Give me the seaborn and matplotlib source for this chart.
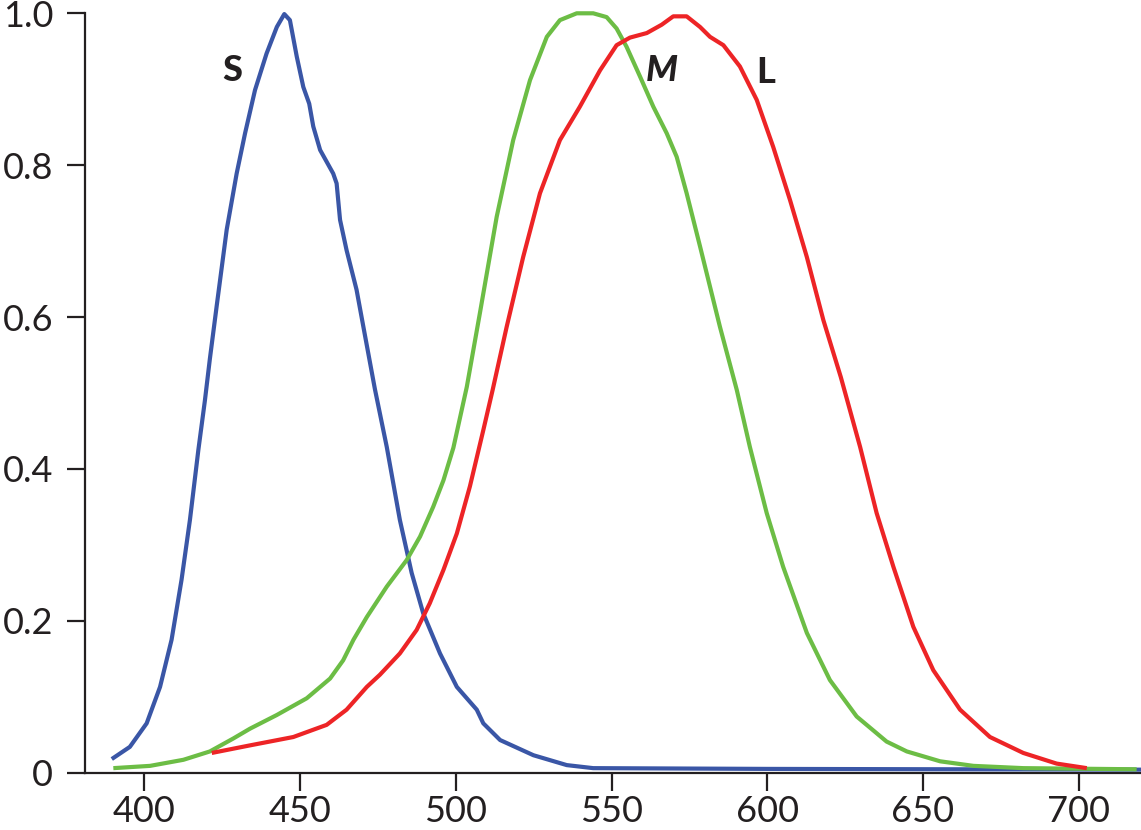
import matplotlib
matplotlib.use("Agg")
import matplotlib.pyplot as plt
import seaborn as sns
import pandas as pd

# S cone (blue)
s_wl = [389.5, 395.3, 400.7, 405.0, 408.7, 411.9, 414.6, 417.3, 419.4, 421.0, 423.2, 426.4,
        429.6, 432.3, 435.5, 439.2, 442.5, 444.9, 446.7, 448.9, 451.0, 452.9, 454.2, 456.4,
        460.6, 461.7, 462.8, 464.9, 468.1, 470.3, 474.0, 477.8, 482.0, 485.8, 489.5, 494.9,
        500.3, 506.7, 508.8, 514.2, 524.9, 535.6, 544.1, 600.0, 660.0, 720.0]
s_val = [0.018, 0.034, 0.065, 0.113, 0.175, 0.254, 0.333, 0.425, 0.490, 0.545, 0.615, 0.715,
         0.789, 0.842, 0.899, 0.947, 0.982, 0.999, 0.991, 0.943, 0.903, 0.881, 0.851, 0.820,
         0.789, 0.776, 0.728, 0.688, 0.636, 0.587, 0.505, 0.429, 0.333, 0.263, 0.210, 0.157,
         0.113, 0.083, 0.065, 0.043, 0.023, 0.010, 0.006, 0.005, 0.0045, 0.004]

# M cone (green)
m_wl = [390.0, 401.8, 412.5, 421.0, 428.5, 433.9, 442.5, 452.1, 459.6, 463.8, 467.1, 471.4,
        477.8, 484.2, 488.5, 492.7, 496.0, 499.2, 503.5, 507.7, 513.1, 518.4, 523.8, 529.2,
        533.4, 538.8, 544.1, 548.4, 551.6, 554.8, 559.1, 563.4, 567.7, 570.9, 574.1, 578.4,
        584.8, 590.2, 594.4, 599.8, 605.1, 612.7, 620.1, 628.7, 638.3, 644.8, 655.5, 666.2,
        682.2, 718.6]
m_val = [0.006, 0.009, 0.017, 0.028, 0.045, 0.058, 0.076, 0.098, 0.124, 0.148, 0.175, 0.205,
         0.245, 0.280, 0.311, 0.350, 0.385, 0.428, 0.508, 0.605, 0.732, 0.833, 0.912, 0.969,
         0.991, 1.000, 1.000, 0.995, 0.980, 0.956, 0.917, 0.877, 0.842, 0.811, 0.763, 0.693,
         0.587, 0.504, 0.429, 0.342, 0.271, 0.184, 0.122, 0.074, 0.041, 0.028, 0.015, 0.009,
         0.006, 0.0045]

# L cone (red)
l_wl = [421.6, 433.9, 447.8, 458.5, 464.9, 471.4, 475.6, 482.0, 487.4, 491.6, 496.0, 500.3,
        504.5, 508.8, 511.8, 516.3, 521.6, 527.0, 533.4, 539.8, 546.3, 551.6, 555.9, 561.3,
        566.1, 569.8, 574.1, 578.4, 581.6, 585.9, 591.2, 596.6, 601.9, 607.3, 612.7, 618.0,
        623.6, 629.8, 635.1, 640.5, 646.9, 653.3, 661.9, 671.5, 682.2, 692.9, 702.6]
l_val = [0.026, 0.036, 0.047, 0.063, 0.083, 0.113, 0.129, 0.157, 0.188, 0.223, 0.267, 0.315,
         0.377, 0.451, 0.504, 0.587, 0.679, 0.763, 0.833, 0.877, 0.925, 0.958, 0.968, 0.974,
         0.985, 0.996, 0.996, 0.982, 0.969, 0.958, 0.930, 0.886, 0.824, 0.754, 0.679, 0.596,
         0.521, 0.429, 0.342, 0.271, 0.192, 0.135, 0.083, 0.047, 0.026, 0.012, 0.006]

x_ticks = [400, 450, 500, 550, 600, 650, 700]
y_ticks = [0, 0.2, 0.4, 0.6, 0.8, 1.0]
y_tick_labels = ["0", "0.2", "0.4", "0.6", "0.8", "1.0"]
curve_labels = ["S", "M", "L"]
label_x = [428.1, 566.2, 599.6]
label_y = [0.925, 0.925, 0.922]

sns.set_style("ticks")
plt.rcParams["font.family"] = ["Lato", "DejaVu Sans"]

fig = plt.figure(figsize=(11.41, 8.30), dpi=100)
ax = fig.add_axes([85 / 1141, 1 - 772.7 / 830, 1 - 85 / 1141, (772.7 - 13.3) / 830])

colors = {"S": "#3a56a6", "M": "#6cbd45", "L": "#ed2426"}
df_s = pd.DataFrame({"wl": s_wl, "val": s_val})
df_m = pd.DataFrame({"wl": m_wl, "val": m_val})
df_l = pd.DataFrame({"wl": l_wl, "val": l_val})
lw = 3.0
kw = dict(ax=ax, lw=lw, sort=False, clip_on=False, solid_joinstyle="round", solid_capstyle="butt")
sns.lineplot(data=df_s, x="wl", y="val", color=colors["S"], zorder=3, **kw)
sns.lineplot(data=df_m, x="wl", y="val", color=colors["M"], zorder=4, **kw)
sns.lineplot(data=df_l, x="wl", y="val", color=colors["L"], zorder=5, **kw)

ax.set_xlim(380.9, 720)
ax.set_ylim(0, 1.0)
ax.set_xticks(x_ticks)
ax.set_yticks(y_ticks)
ax.set_yticklabels(y_tick_labels)
ax.set_xlabel("")
ax.set_ylabel("")
sns.despine(ax=ax)
for sp in ["left", "bottom"]:
    ax.spines[sp].set_linewidth(1.6)
    ax.spines[sp].set_color("#231f20")
ax.tick_params(axis="both", length=13, width=1.6, color="#231f20", labelcolor="#231f20",
               labelsize=26, direction="out")
ax.tick_params(axis="x", pad=3)
ax.tick_params(axis="y", pad=10)

for lab, lx, ly in zip(curve_labels, label_x, label_y):
    ax.text(lx, ly, lab, fontsize=26, fontweight="black", color="#231f20",
            ha="center", va="center", style="italic" if lab == "M" else "normal")

fig.savefig("out.png", dpi=100)
